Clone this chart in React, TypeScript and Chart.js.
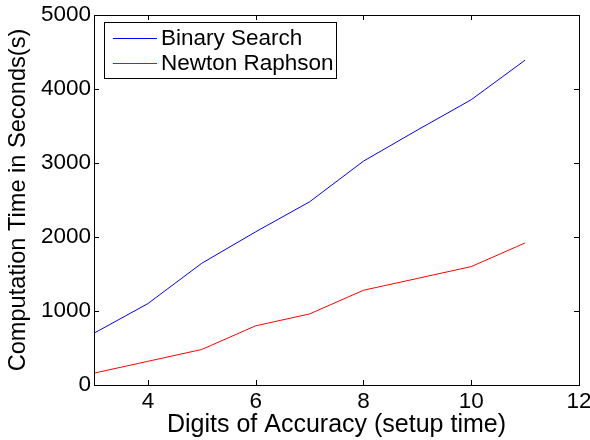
import React, { useEffect, useRef } from 'react';
import { Chart, registerables } from 'chart.js';

Chart.register(...registerables);

const digits = [3, 4, 5, 6, 7, 8, 9, 10, 11];
const binarySearch = [700, 1100, 1645, 2070, 2475, 3025, 3445, 3855, 4390];
const newtonRaphson = [160, 320, 480, 800, 960, 1280, 1440, 1600, 1920];
const seriesNames = ['Binary Search', 'Newton Raphson'];
const seriesColors = ['#0000ff', '#ff0000'];
const xTicks = [4, 6, 8, 10, 12];
const xTitle = 'Digits of Accuracy (setup time)';
const yTitle = 'Computation Time in Seconds(s)';

const FONT = "'Liberation Sans', Arial, Helvetica, sans-serif";

const matlabFrame = {
  id: 'matlabFrame',
  afterDatasetsDraw(chart: any) {
    const { ctx, chartArea } = chart;
    const { left, right, top, bottom } = chartArea;
    const xs = chart.scales.x;
    const ys = chart.scales.y;
    const tl = 5;
    ctx.save();
    ctx.strokeStyle = '#000';
    ctx.lineWidth = 1;
    ctx.strokeRect(Math.round(left) + 0.5, Math.round(top) + 0.5, Math.round(right - left), Math.round(bottom - top));
    ctx.beginPath();
    xs.ticks.forEach((t: any) => {
      const px = Math.round(xs.getPixelForValue(t.value)) + 0.5;
      ctx.moveTo(px, bottom);
      ctx.lineTo(px, bottom - tl);
      ctx.moveTo(px, top);
      ctx.lineTo(px, top + tl);
    });
    ys.ticks.forEach((t: any) => {
      const py = Math.round(ys.getPixelForValue(t.value)) + 0.5;
      ctx.moveTo(left, py);
      ctx.lineTo(left + tl, py);
      ctx.moveTo(right, py);
      ctx.lineTo(right - tl, py);
    });
    ctx.stroke();

    const bx = 104.5, by = 22.5, bw = 232, bh = 56;
    ctx.fillStyle = '#fff';
    ctx.fillRect(bx, by, bw, bh);
    ctx.strokeStyle = '#000';
    ctx.strokeRect(bx, by, bw, bh);
    ctx.font = `22.5px ${FONT}`;
    ctx.textBaseline = 'middle';
    ctx.textAlign = 'left';
    chart.data.datasets.forEach((ds: any, i: number) => {
      const y = 38 + i * 25;
      ctx.strokeStyle = ds.borderColor;
      ctx.beginPath();
      ctx.moveTo(113, y + 0.5);
      ctx.lineTo(157, y + 0.5);
      ctx.stroke();
      ctx.fillStyle = '#000';
      ctx.fillText(ds.label, 161, y + 1);
    });
    ctx.restore();
  },
};

export default function App() {
  const ref = useRef<HTMLCanvasElement | null>(null);
  useEffect(() => {
    if (!ref.current) return;
    const chart = new Chart(ref.current, {
      type: 'line',
      data: {
        datasets: [
          {
            label: seriesNames[0],
            data: digits.map((d, i) => ({ x: d, y: binarySearch[i] })),
            borderColor: seriesColors[0],
            borderWidth: 1,
            pointRadius: 0,
            tension: 0,
            fill: false,
          },
          {
            label: seriesNames[1],
            data: digits.map((d, i) => ({ x: d, y: newtonRaphson[i] })),
            borderColor: seriesColors[1],
            borderWidth: 1,
            pointRadius: 0,
            tension: 0,
            fill: false,
          },
        ],
      },
      options: {
        animation: false,
        responsive: false,
        layout: { padding: { top: 15, right: 11, left: 0, bottom: 0 } },
        plugins: { legend: { display: false }, tooltip: { enabled: false } },
        scales: {
          x: {
            type: 'linear',
            min: 3,
            max: 12,
            afterBuildTicks: (s: any) => {
              s.ticks = xTicks.map((v) => ({ value: v }));
            },
            afterFit: (s: any) => {
              s.height = 55;
              s.paddingLeft = 0;
              s.paddingRight = 0;
            },
            grid: { display: false, drawTicks: false },
            border: { display: false },
            ticks: {
              color: '#000',
              font: { family: FONT, size: 22.5 },
              padding: 3,
              maxRotation: 0,
              autoSkip: false,
              callback: (v: any) => String(v),
            },
            title: {
              display: true,
              text: xTitle,
              color: '#000',
              font: { family: FONT, size: 25 },
              padding: { top: 0, bottom: 0 },
            },
          },
          y: {
            type: 'linear',
            min: 0,
            max: 5000,
            afterFit: (s: any) => {
              s.width = 94;
              s.paddingTop = 0;
              s.paddingBottom = 0;
            },
            grid: { display: false, drawTicks: false },
            border: { display: false },
            ticks: {
              stepSize: 1000,
              color: '#000',
              font: { family: FONT, size: 22.5 },
              padding: 3,
              callback: (v: any) => String(v),
            },
            title: {
              display: true,
              text: yTitle,
              color: '#000',
              font: { family: FONT, size: 23.6 },
              padding: { top: 4, bottom: 0 },
            },
          },
        },
      } as any,
      plugins: [matlabFrame],
    });
    return () => chart.destroy();
  }, []);
  return (
    <div style={{ position: 'absolute', left: 0, top: 0, width: 590, height: 440, background: '#fff' }}>
      <canvas ref={ref} width={590} height={440} style={{ display: 'block' }} />
    </div>
  );
}
